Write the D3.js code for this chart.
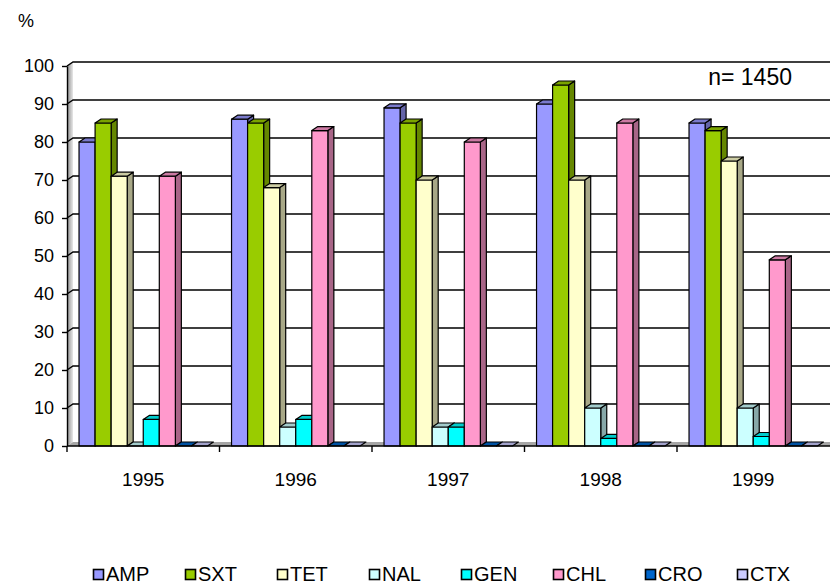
<!DOCTYPE html>
<html>
<head>
<meta charset="utf-8">
<script src="https://cdn.jsdelivr.net/npm/d3@7"></script>
<style>
  html, body { margin: 0; padding: 0; background: #fff; }
  svg { display: block; font-family: "Liberation Sans", Arial, sans-serif; }
</style>
</head>
<body>
<svg id="chart" width="830" height="586"></svg>
<script>
// Resistance rates (%) per year and antibiotic
const years = ["1995", "1996", "1997", "1998", "1999"];
const series = ["AMP", "SXT", "TET", "NAL", "GEN", "CHL", "CRO", "CTX"];
const AMP = [80, 86, 89, 90, 85];
const SXT = [85, 85, 85, 95, 83];
const TET = [71, 68, 70, 70, 75];
const NAL = [0, 5, 5, 10, 10];
const GEN = [7, 7, 5, 2, 2.5];
const CHL = [71, 83, 80, 85, 49];
const CRO = [0, 0, 0, 0, 0];
const CTX = [0, 0, 0, 0, 0];
const yTicks = [0, 10, 20, 30, 40, 50, 60, 70, 80, 90, 100];
const sampleNote = "n= 1450";

const values = { AMP, SXT, TET, NAL, GEN, CHL, CRO, CTX };
const fills = ["#9999ff", "#99cc00", "#ffffcc", "#ccffff", "#00ffff", "#ff99cc", "#0066cc", "#ccccff"];

const svg = d3.select("#chart");
const plotLeft = 67, plotRight = 829.5, plotBottom = 446, plotTop = 66;
const dx = 6, dy = -4;   // depth offset of the 3D box

const x0 = d3.scaleBand().domain(years).range([plotLeft, plotRight]).paddingInner(0).paddingOuter(0);
const x1 = d3.scaleBand().domain(series).range([0, x0.bandwidth()]).paddingInner(0).paddingOuter(0.75);
const y = d3.scaleLinear().domain([0, 100]).range([plotBottom, plotTop]);
const color = d3.scaleOrdinal().domain(series).range(fills);

const defs = svg.append("defs");
const wg = defs.append("linearGradient").attr("id", "wall").attr("x1", 0).attr("x2", 1).attr("y1", 0).attr("y2", 0);
wg.append("stop").attr("offset", 0).attr("stop-color", "#8c8c8c");
wg.append("stop").attr("offset", 1).attr("stop-color", "#e8e8e8");

const poly = pts => "M" + pts.map(p => p.join(",")).join("L") + "Z";

// side wall and floor
svg.append("path")
  .attr("d", poly([[plotLeft, plotBottom], [plotLeft, y(100)], [plotLeft + dx, y(100) + dy], [plotLeft + dx, plotBottom + dy]]))
  .attr("fill", "url(#wall)").attr("stroke", "none");
svg.append("path")
  .attr("d", poly([[plotLeft, plotBottom], [830, plotBottom], [830 + dx, plotBottom + dy], [plotLeft + dx, plotBottom + dy]]))
  .attr("fill", "#a6a6a6").attr("stroke", "none");

// gridlines on side wall and back wall
svg.append("g").selectAll("path").data(yTicks.filter(d => d > 0)).join("path")
  .attr("d", d => `M${plotLeft},${y(d)}L${plotLeft + dx},${y(d) + dy}L830,${y(d) + dy}`)
  .attr("fill", "none").attr("stroke", "#000").attr("stroke-width", 1.4);

// bars
const shade = (c, k) => { const h = d3.rgb(c); return d3.rgb(h.r * k, h.g * k, h.b * k).formatHex(); };
const bars = svg.append("g");
years.forEach((yr, i) => {
  series.forEach(s => {
    const v = values[s][i];
    const xa = x0(yr) + x1(s), xb = xa + x1.bandwidth();
    const yt = y(v);
    const c = color(s);
    const g = bars.append("g").attr("stroke", "#000").attr("stroke-width", 1.2).attr("stroke-linejoin", "round");
    if (v > 0) {
      g.append("path").attr("d", poly([[xb, plotBottom], [xb, yt], [xb + dx, yt + dy], [xb + dx, plotBottom + dy]]))
        .attr("fill", shade(c, 0.66));
      g.append("rect").attr("x", xa).attr("y", yt).attr("width", xb - xa).attr("height", plotBottom - yt)
        .attr("fill", c);
    }
    g.append("path").attr("d", poly([[xa, yt], [xb, yt], [xb + dx, yt + dy], [xa + dx, yt + dy]]))
      .attr("fill", shade(c, 0.8));
  });
});

const FONT = "'Liberation Sans', Arial, sans-serif";

// value axis
const yAxis = svg.append("g").attr("transform", `translate(${plotLeft},0)`)
  .call(d3.axisLeft(y).tickValues(yTicks).tickSize(5).tickPadding(8).tickSizeOuter(0));
yAxis.select(".domain").attr("stroke", "#000").attr("stroke-width", 1.4);
yAxis.selectAll(".tick line").attr("stroke", "#000").attr("stroke-width", 1.4);
yAxis.selectAll("text").attr("font-size", 18).attr("fill", "#000").attr("font-family", FONT);

// category axis
const xAxis = svg.append("g").attr("transform", `translate(0,${plotBottom})`)
  .call(d3.axisBottom(x0).tickSize(0).tickPadding(27));
xAxis.select(".domain").remove();
xAxis.selectAll("text").attr("font-size", 19).attr("fill", "#000").attr("font-family", FONT);
svg.append("line").attr("x1", plotLeft).attr("x2", 830).attr("y1", plotBottom).attr("y2", plotBottom)
  .attr("stroke", "#000").attr("stroke-width", 1.4);
svg.append("g").selectAll("line").data(years).join("line")
  .attr("x1", d => x0(d)).attr("x2", d => x0(d)).attr("y1", plotBottom).attr("y2", plotBottom + 6)
  .attr("stroke", "#000").attr("stroke-width", 1.4);

// unit label and sample size note
svg.append("text").attr("x", 26).attr("y", 27).attr("text-anchor", "middle")
  .attr("font-size", 18).text("%");
svg.append("text").attr("x", 792).attr("y", 85).attr("text-anchor", "end")
  .attr("font-size", 23).text(sampleNote);

// legend
const legend = svg.append("g").attr("transform", "translate(93,566)");
const li = legend.selectAll("g").data(series).join("g")
  .attr("transform", (d, i) => `translate(${i * 92},0)`);
li.append("rect").attr("x", 0.5).attr("y", 3.5).attr("width", 10).attr("height", 10)
  .attr("fill", d => color(d)).attr("stroke", "#000").attr("stroke-width", 1.6);
li.append("text").attr("x", 13).attr("y", 15).attr("font-size", 20).text(d => d);
</script>
</body>
</html>
